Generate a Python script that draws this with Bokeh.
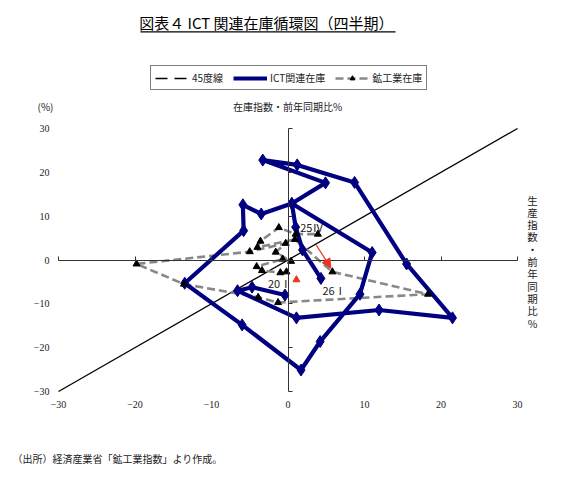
from bokeh.plotting import figure
from bokeh.models import (LinearAxis, FixedTicker, Label, Legend, LegendItem, Title,
                          Arrow, NormalHead, BoxAnnotation, Range1d, ColumnDataSource)
from bokeh.core.properties import value
from bokeh.embed import file_html
from bokeh.resources import INLINE

# x: 生産指数・前年同期比%, y: 在庫指数・前年同期比%
ict_x = [-0.4, -4.7, -6.6, 1.1, 11.9, 21.5, 15.5, 8.7, 1.2, -3.3, 4.9, 0.5, -3.5,
         -5.9, -5.8, -13.5, -6.0, 1.7, 4.2, 9.4, 11.0, 0.5, 1.0, 1.9, 4.3]
ict_y = [-8.0, -6.2, -7.0, -13.2, -11.4, -13.2, -0.9, 17.7, 21.7, 22.8, 17.6, 12.9, 10.5,
         12.6, 6.7, -5.3, -14.8, -25.1, -18.6, -7.8, 1.7, 12.9, 7.5, 2.3, -4.2]

ind_x = [-0.2, -1.0, -3.4, -4.1, -0.7, 0.4, -1.6, -0.3, -5.0, -19.8, -13.6, -3.9, -1.3,
         18.3, 5.8, 0.9, -4.0, -3.6, -1.2, 1.0, 3.9]
ind_y = [-2.7, -2.9, -2.4, -1.5, 0.2, -0.3, 1.8, 3.8, 1.9, -0.9, -5.5, -8.5, -9.7,
         -7.8, -2.7, 4.7, 2.9, 4.3, 7.4, 5.9, 5.9]

diag = [-30, 30]
legend_dummy = [200, 201]   # off-range, only for the legend swatch

red_x = [1.1]
red_y = [-4.5]
arrow_start = (3.7, 3.4)
arrow_end = (5.6, -1.8)

pt_labels = ["25Ⅳ", "20Ⅰ", "26Ⅰ"]
pt_label_x = [1.6, -1.1, 4.5]
pt_label_y = [7.5, -5.3, -6.8]
pt_label_align = ["left", "center", "left"]

ticks = [-30, -20, -10, 0, 10, 20, 30]

JP = "Noto Sans CJK JP"
SERIF = "Liberation Serif"
TXT = "#222222"

W, H = 576, 487
BL, BR, BT, BB = 30, 12, 10, 87   # frame borders (frame bottom at y=400)
FB = H - BB

p = figure(width=W, height=H, output_backend="svg", toolbar_location=None,
           x_range=Range1d(-33.66, 36.14), y_range=Range1d(-32.05, 56.92),
           min_border_left=BL, min_border_right=BR, min_border_top=BT,
           min_border_bottom=BB, x_axis_type=None, y_axis_type=None)
p.outline_line_color = None
p.background_fill_color = "white"
p.border_fill_color = "white"

# tick-label axes: y labels left of x=-30, x labels below the frame
yl = LinearAxis(ticker=FixedTicker(ticks=ticks), fixed_location=-30)
xl = LinearAxis(ticker=FixedTicker(ticks=ticks))
for ax in (yl, xl):
    ax.axis_line_color = None
    ax.major_tick_line_color = None
    ax.minor_tick_line_color = None
    ax.major_tick_in = 0
    ax.major_tick_out = 0
    ax.major_label_text_font = SERIF
    ax.major_label_text_font_size = "10px"
    ax.major_label_text_color = TXT
yl.major_label_standoff = 9
xl.major_label_standoff = 0
p.add_layout(yl, "left")
p.add_layout(xl, "below")

# axes through the origin (lines and ticks only)
xo = LinearAxis(ticker=FixedTicker(ticks=ticks), fixed_location=0, bounds=(-30, 30))
yo = LinearAxis(ticker=FixedTicker(ticks=ticks), fixed_location=0, bounds=(-30, 30))
for ax in (xo, yo):
    ax.axis_line_color = "#333333"
    ax.axis_line_width = 1
    ax.major_tick_line_color = "#333333"
    ax.major_tick_in = 0
    ax.major_tick_out = 4
    ax.minor_tick_line_color = None
    ax.major_label_standoff = 0
    ax.major_label_text_font_size = "0px"
    ax.major_label_text_color = None
p.add_layout(xo, "above")
p.add_layout(yo, "right")

# 45 degree line
p.line(diag, diag, line_color="black", line_width=1.3)
legend_diag = p.line(legend_dummy, legend_dummy, line_color="black", line_width=1.6,
                     line_dash="12 7")

ind_line = p.line(ind_x, ind_y, line_color="#888888", line_width=2.6, line_dash="8 4")
ict_line = p.line(ict_x, ict_y, line_color="#000080", line_width=4.2)
ict_pts = p.scatter(ict_x, ict_y, marker="diamond", size=12, color="#000080")
ind_pts = p.scatter(ind_x, ind_y, marker="triangle", size=7, color="black")

p.scatter(red_x, red_y, marker="triangle", size=7, color="#EE3322")
p.add_layout(Arrow(end=NormalHead(size=9, fill_color="#EE3322", line_color="#EE3322"),
                   x_start=arrow_start[0], y_start=arrow_start[1],
                   x_end=arrow_end[0], y_end=arrow_end[1],
                   line_color="#EE3322", line_width=1.2))

src = ColumnDataSource(dict(x=pt_label_x, y=pt_label_y, t=pt_labels, a=pt_label_align))
p.text(x="x", y="y", text="t", source=src, text_font=value(JP),
       text_font_size="11px", text_baseline="middle", text_align="a",
       text_color=TXT)

legend = Legend(items=[
    LegendItem(label="45度線", renderers=[legend_diag]),
    LegendItem(label="ICT関連在庫", renderers=[ict_line]),
    LegendItem(label="鉱工業在庫", renderers=[ind_line, ind_pts]),
], orientation="horizontal", location=(120, FB - 90))
legend.border_line_color = "black"
legend.border_line_width = 1
legend.label_text_font = JP
legend.label_text_font_size = "10px"
legend.label_text_color = TXT
legend.label_standoff = 3
legend.glyph_width = 34
legend.glyph_height = 12
legend.spacing = 10
legend.padding = 4
legend.margin = 0
p.add_layout(legend)

def lab(px, py, text, size, align="center", baseline="middle", font=JP, **kw):
    p.add_layout(Label(x=px - BL, y=FB - py, x_units="screen", y_units="screen",
                       text=text, text_font=font, text_font_size=size,
                       text_align=align, text_baseline=baseline,
                       text_color=kw.pop("color", TXT), **kw))

lab(267.5, 22, "図表４  ICT 関連在庫循環図（四半期）", "15px", color="black")
p.add_layout(BoxAnnotation(left=140 - BL, right=395 - BL, bottom=FB - 32, top=FB - 30.8,
                           left_units="screen", right_units="screen",
                           bottom_units="screen", top_units="screen",
                           fill_color="black", fill_alpha=1, line_color=None))
lab(45, 106, "(%)", "10px")
lab(287, 106, "在庫指数・前年同期比%", "10px")
lab(532, 192, "\n".join("生産指数・前年同期比%"), "10.5px", baseline="top",
    text_line_height=0.82)

# spacer between the x tick labels and the source note
p.add_layout(Title(text=" ", standoff=25, text_font_size="10px"), "below")
footer = Title(text="（出所）経済産業省「鉱工業指数」より作成。", align="left",
               offset=-18, standoff=0, text_font=JP, text_font_size="10px",
               text_font_style="normal", text_color=TXT)
p.add_layout(footer, "below")

open("out.html", "w").write(file_html(p, INLINE))
